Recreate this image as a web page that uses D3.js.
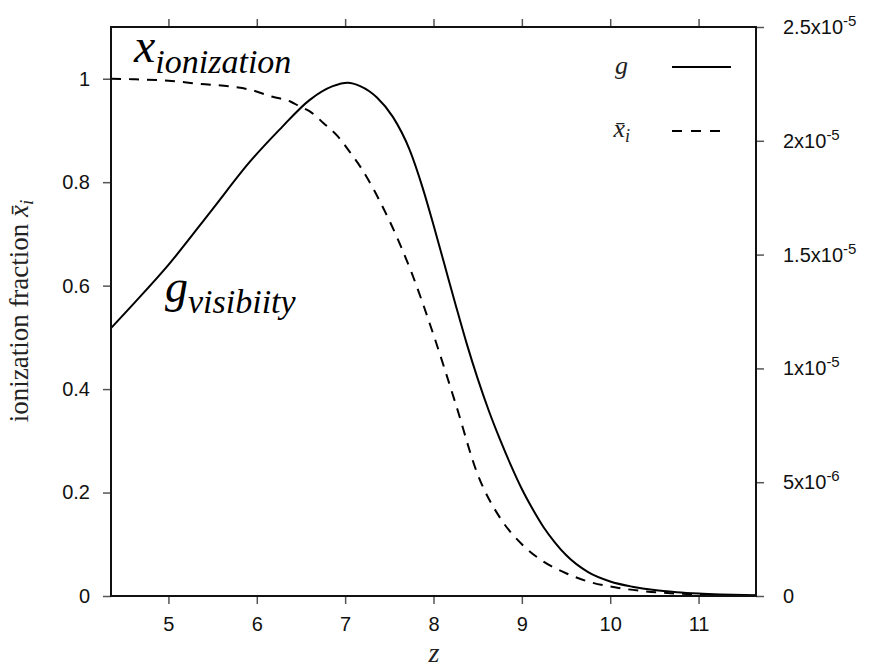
<!DOCTYPE html>
<html>
<head>
<meta charset="utf-8">
<script src="https://cdn.jsdelivr.net/npm/d3@7/dist/d3.min.js"></script>
<style>
  html, body { margin: 0; padding: 0; background: #fff; }
  svg { display: block; }
</style>
</head>
<body>
<svg id="chart" width="877" height="668"></svg>
<script>
// Redshift grid and mean ionization fraction (left axis)
const zIonization = [4.35, 4.6, 5.0, 5.36, 5.75, 5.92, 6.18, 6.38, 6.49, 6.6, 6.75, 6.92, 7.05, 7.19, 7.31, 7.39, 7.5, 7.75, 8.0, 8.25, 8.5, 8.75, 9.0, 9.25, 9.5, 9.75, 10.08, 10.4, 10.72, 11.2, 11.65];
const xIonization = [1.0, 0.999, 0.996, 0.99, 0.984, 0.979, 0.965, 0.956, 0.946, 0.937, 0.915, 0.888, 0.859, 0.825, 0.79, 0.764, 0.726, 0.626, 0.505, 0.372, 0.235, 0.152, 0.10, 0.066, 0.044, 0.028, 0.016, 0.009, 0.005, 0.002, 0.001];

// Visibility function g(z) (right axis)
const zVisibility = [4.35, 4.62, 5.0, 5.5, 5.92, 6.26, 6.6, 6.86, 7.03, 7.17, 7.36, 7.54, 7.73, 7.88, 8.0, 8.125, 8.25, 8.375, 8.5, 8.625, 8.75, 8.875, 9.0, 9.125, 9.25, 9.375, 9.5, 9.75, 10.0, 10.25, 10.5, 10.75, 11.0, 11.25, 11.65];
const gVisibility = [1.177e-5, 1.29e-5, 1.455e-5, 1.70e-5, 1.907e-5, 2.05e-5, 2.18e-5, 2.24e-5, 2.255e-5, 2.24e-5, 2.19e-5, 2.105e-5, 1.96e-5, 1.79e-5, 1.63e-5, 1.455e-5, 1.28e-5, 1.11e-5, 0.955e-5, 0.815e-5, 0.69e-5, 0.575e-5, 0.47e-5, 0.38e-5, 0.30e-5, 0.235e-5, 0.18e-5, 0.105e-5, 0.064e-5, 0.041e-5, 0.026e-5, 0.017e-5, 0.011e-5, 0.007e-5, 0.003e-5];

// Axis ticks
const xTicks = [5, 6, 7, 8, 9, 10, 11];
const leftTicks = [0, 0.2, 0.4, 0.6, 0.8, 1];
const rightTicks = [0, 5e-6, 1e-5, 1.5e-5, 2e-5, 2.5e-5];
const rightTickMantissa = ["0", "5x10", "1x10", "1.5x10", "2x10", "2.5x10"];
const rightTickExponent = ["", "-6", "-5", "-5", "-5", "-5"];

const svg = d3.select("#chart");
const W = 877, H = 668;
const box = { left: 111, right: 756, top: 27, bottom: 596 };

svg.append("rect").attr("width", W).attr("height", H).attr("fill", "#fff");

const x = d3.scaleLinear().domain([4.35, 11.65]).range([box.left, box.right]);
const yL = d3.scaleLinear().domain([0, 1.1]).range([box.bottom, box.top]);
const yR = d3.scaleLinear().domain([0, 2.5e-5]).range([box.bottom, box.top]);

const tickFont = "'Liberation Sans', Arial, Helvetica, sans-serif";
const serif = "'Liberation Serif', 'Times New Roman', Times, serif";

function styleAxis(g) {
  g.select(".domain").remove();
  g.selectAll(".tick line").attr("stroke", "#555").attr("stroke-width", 1.5);
  g.selectAll(".tick text").attr("fill", "#111").attr("font-family", tickFont).attr("font-size", 20);
}

// Bottom axis
svg.append("g")
  .attr("transform", `translate(0,${box.bottom})`)
  .call(d3.axisBottom(x).tickValues(xTicks).tickSize(8).tickPadding(13).tickFormat(d3.format("d")))
  .call(styleAxis);

// Top axis (ticks only)
svg.append("g")
  .attr("transform", `translate(0,${box.top})`)
  .call(d3.axisTop(x).tickValues(xTicks).tickSize(8).tickFormat(""))
  .call(styleAxis);

// Left axis
svg.append("g")
  .attr("transform", `translate(${box.left},0)`)
  .call(d3.axisLeft(yL).tickValues(leftTicks).tickSize(8).tickPadding(13).tickFormat(d3.format("~g")))
  .call(styleAxis);

// Right axis with powers of ten
const right = svg.append("g")
  .attr("transform", `translate(${box.right},0)`)
  .call(d3.axisRight(yR).tickValues(rightTicks).tickSize(8).tickPadding(19))
  .call(styleAxis);
right.selectAll(".tick text").each(function (d, i) {
  const t = d3.select(this);
  t.text(null).attr("x", 27).attr("text-anchor", "start");
  t.append("tspan").text(rightTickMantissa[i]);
  if (rightTickExponent[i]) {
    t.append("tspan").attr("font-size", 15).attr("dy", -8).text(rightTickExponent[i]);
  }
});

// Curves
const lineIon = d3.line()
  .x((d, i) => x(zIonization[i]))
  .y(d => yL(d))
  .curve(d3.curveMonotoneX);
const lineVis = d3.line()
  .x((d, i) => x(zVisibility[i]))
  .y(d => yR(d))
  .curve(d3.curveMonotoneX);

svg.append("defs").append("clipPath").attr("id", "plotclip")
  .append("rect").attr("x", box.left).attr("y", box.top)
  .attr("width", box.right - box.left).attr("height", box.bottom - box.top);

const curves = svg.append("g").attr("clip-path", "url(#plotclip)");
curves.append("path")
  .attr("d", lineVis(gVisibility))
  .attr("fill", "none").attr("stroke", "#000").attr("stroke-width", 2);
curves.append("path")
  .attr("d", lineIon(xIonization))
  .attr("fill", "none").attr("stroke", "#000").attr("stroke-width", 2)
  .attr("stroke-dasharray", "10,8");

// Plot frame
svg.append("rect")
  .attr("x", box.left).attr("y", box.top)
  .attr("width", box.right - box.left).attr("height", box.bottom - box.top)
  .attr("fill", "none").attr("stroke", "#111").attr("stroke-width", 2);

// Legend
const legend = svg.append("g");
legend.append("text")
  .attr("x", 628).attr("y", 74).attr("text-anchor", "end")
  .attr("font-family", serif).attr("font-style", "italic").attr("font-size", 26).attr("fill", "#222")
  .text("g");
legend.append("line")
  .attr("x1", 672).attr("x2", 731).attr("y1", 67).attr("y2", 67)
  .attr("stroke", "#000").attr("stroke-width", 2);
const legX = legend.append("text")
  .attr("x", 630).attr("y", 137).attr("text-anchor", "end")
  .attr("font-family", serif).attr("font-style", "italic").attr("font-size", 26).attr("fill", "#222");
legX.append("tspan").text("x\u0304");
legX.append("tspan").attr("font-size", 18).attr("dy", 5).text("i");
legend.append("line")
  .attr("x1", 672).attr("x2", 721).attr("y1", 131).attr("y2", 131)
  .attr("stroke", "#000").attr("stroke-width", 2).attr("stroke-dasharray", "10,9");

// Axis titles
const yTitle = svg.append("text")
  .attr("transform", "translate(28,311) rotate(-90)")
  .attr("text-anchor", "middle")
  .attr("font-family", serif).attr("font-size", 27).attr("fill", "#222");
yTitle.append("tspan").text("ionization fraction ");
yTitle.append("tspan").attr("font-style", "italic").text("x\u0304");
yTitle.append("tspan").attr("font-style", "italic").attr("font-size", 19).attr("dy", 5).text("i");

svg.append("text")
  .attr("x", 434).attr("y", 662).attr("text-anchor", "middle")
  .attr("font-family", serif).attr("font-style", "italic").attr("font-size", 28).attr("fill", "#222")
  .text("z");

// In-plot annotations
const annX = svg.append("text")
  .attr("x", 134).attr("y", 62)
  .attr("font-family", serif).attr("font-style", "italic").attr("fill", "#000");
annX.append("tspan").attr("font-size", 48).text("x");
annX.append("tspan").attr("font-size", 34).attr("dy", 11).text("ionization");

const annG = svg.append("text")
  .attr("x", 165).attr("y", 302)
  .attr("font-family", serif).attr("font-style", "italic").attr("fill", "#000");
annG.append("tspan").attr("font-size", 46).text("g");
annG.append("tspan").attr("font-size", 34).attr("dy", 11).text("visibiity");
</script>
</body>
</html>
